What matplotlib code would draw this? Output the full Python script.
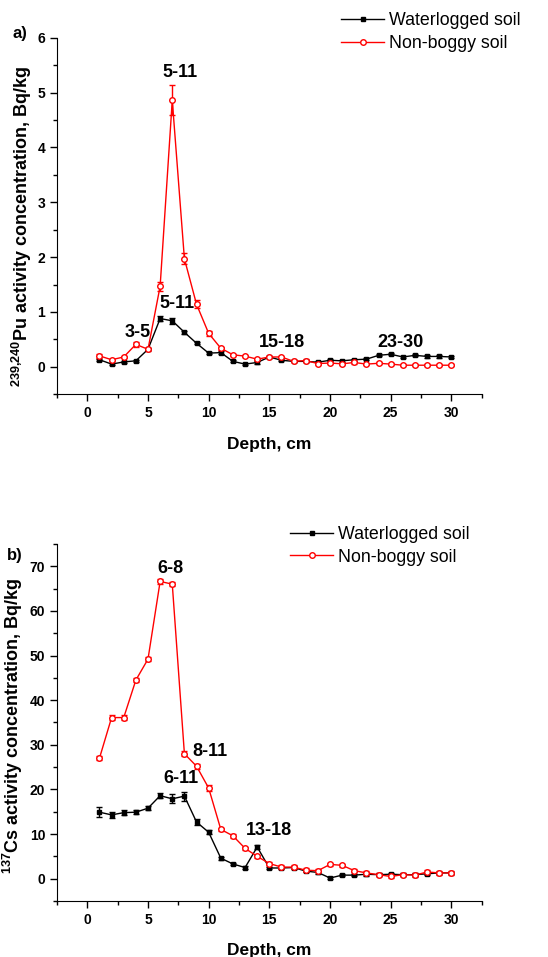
import matplotlib
matplotlib.use('Agg')
import matplotlib.pyplot as plt
from matplotlib.lines import Line2D
from matplotlib.ticker import MultipleLocator

plt.rcParams['font.family'] = ['Liberation Sans', 'DejaVu Sans']
plt.rcParams['font.weight'] = 'bold'
plt.rcParams['axes.labelweight'] = 'bold'
plt.rcParams['mathtext.fontset'] = 'custom'
plt.rcParams['mathtext.rm'] = 'Liberation Sans:bold'
plt.rcParams['mathtext.bf'] = 'Liberation Sans:bold'

depth = list(range(1, 31))

# a) 239,240Pu
pu_wet = [0.13, 0.05, 0.09, 0.11, 0.32, 0.88, 0.84, 0.63, 0.43, 0.25,
          0.26, 0.10, 0.05, 0.08, 0.18, 0.12, 0.10, 0.10, 0.085, 0.12,
          0.11, 0.13, 0.14, 0.21, 0.23, 0.18, 0.21, 0.19, 0.19, 0.18]
pu_wet_err = [0.02, 0.02, 0.02, 0.02, 0.02, 0.05, 0.05, 0.03, 0.02, 0.02,
              0.02, 0.02, 0.02, 0.02, 0.02, 0.02, 0.02, 0.02, 0.02, 0.02,
              0.02, 0.02, 0.02, 0.02, 0.02, 0.02, 0.02, 0.02, 0.02, 0.02]
pu_dry = [0.20, 0.13, 0.18, 0.41, 0.32, 1.47, 4.86, 1.97, 1.14, 0.61,
          0.34, 0.22, 0.195, 0.14, 0.18, 0.18, 0.10, 0.115, 0.06, 0.07,
          0.055, 0.08, 0.05, 0.065, 0.05, 0.03, 0.03, 0.03, 0.03, 0.03]
pu_dry_err = [0.03, 0.02, 0.02, 0.04, 0.03, 0.08, 0.27, 0.10, 0.07, 0.05,
              0.03, 0.02, 0.02, 0.02, 0.02, 0.02, 0.02, 0.02, 0.02, 0.02,
              0.02, 0.02, 0.02, 0.02, 0.02, 0.02, 0.02, 0.02, 0.02, 0.02]
pu_notes = ['5-11', '5-11', '3-5', '15-18', '23-30']
pu_note_x = [7.6, 7.35, 4.15, 16.07, 25.85]
pu_note_y = [5.36, 1.15, 0.63, 0.44, 0.44]

# b) 137Cs
cs_wet = [14.9, 14.3, 14.8, 14.9, 15.8, 18.6, 17.9, 18.5, 12.7, 10.4,
          4.6, 3.3, 2.5, 7.1, 2.4, 2.4, 2.5, 1.7, 1.4, 0.15,
          0.8, 0.8, 1.0, 0.9, 1.0, 0.9, 0.9, 1.1, 1.3, 1.3]
cs_wet_err = [1.1, 0.7, 0.6, 0.5, 0.5, 0.5, 1.0, 1.0, 0.6, 0.4,
              0.3, 0.3, 0.3, 0.4, 0.3, 0.3, 0.3, 0.3, 0.3, 0.3,
              0.3, 0.3, 0.3, 0.3, 0.3, 0.3, 0.3, 0.3, 0.3, 0.3]
cs_dry = [27.0, 36.1, 36.1, 44.5, 49.2, 66.6, 66.0, 28.0, 25.2, 20.3,
          11.05, 9.6, 6.8, 5.0, 3.4, 2.6, 2.6, 1.9, 1.8, 3.2,
          3.0, 1.8, 1.3, 0.9, 0.5, 0.9, 0.8, 1.5, 1.3, 1.3]
cs_dry_err = [0.5, 0.5, 0.5, 0.5, 0.5, 0.5, 0.5, 0.5, 0.6, 0.6,
              0.4, 0.4, 0.4, 0.4, 0.4, 0.4, 0.4, 0.4, 0.4, 0.4,
              0.4, 0.4, 0.4, 0.4, 0.4, 0.4, 0.4, 0.4, 0.4, 0.4]
cs_notes = ['6-8', '8-11', '6-11', '13-18']
cs_note_x = [6.87, 10.1, 7.72, 14.95]
cs_note_y = [69.5, 28.5, 22.5, 10.9]

fig = plt.figure(figsize=(5.48, 9.57), dpi=100)
ax1 = fig.add_axes([0.104, 0.588, 0.775, 0.3726])
ax2 = fig.add_axes([0.104, 0.0585, 0.775, 0.3731])

legend_handles = [
    Line2D([], [], color='black', marker='s', markersize=3.5, linewidth=1),
    Line2D([], [], color='red', marker='o', markersize=4, markerfacecolor='white',
           markeredgecolor='red', linewidth=1),
]
legend_labels = ['Waterlogged soil', 'Non-boggy soil']


def draw(ax, wet, wet_err, dry, dry_err):
    ax.errorbar(depth, wet, yerr=wet_err, color='black', marker='s', markersize=3.5,
                linewidth=1, capsize=2.5, elinewidth=1)
    ax.errorbar(depth, dry, yerr=dry_err, color='red', marker='o', markersize=4,
                markerfacecolor='white', markeredgecolor='red', markeredgewidth=1,
                linewidth=1, capsize=2.5, elinewidth=1)
    ax.spines['top'].set_visible(False)
    ax.spines['right'].set_visible(False)
    ax.set_xlim(-2.5, 32.5)
    ax.xaxis.set_major_locator(MultipleLocator(5))
    ax.xaxis.set_minor_locator(MultipleLocator(2.5))
    ax.tick_params(which='major', length=5, width=1, labelsize=10, direction='out')
    ax.tick_params(which='minor', length=3, width=1, direction='out')
    ax.set_xlabel('Depth, cm', fontsize=12.5, labelpad=12)


draw(ax1, pu_wet, pu_wet_err, pu_dry, pu_dry_err)
ax1.set_ylim(-0.5, 6)
ax1.yaxis.set_major_locator(MultipleLocator(1))
ax1.yaxis.set_minor_locator(MultipleLocator(0.5))
ax1.set_ylabel(r'$^{\mathbf{239{,}240}}$Pu activity concentration, Bq/kg', fontsize=13)
ax1.yaxis.set_label_coords(-0.055, 0.47)
for t, x, y in zip(pu_notes, pu_note_x, pu_note_y):
    ax1.text(x, y, t, fontsize=13, ha='center', va='center')
fig.text(0.022, 0.965, 'a)', fontsize=12, ha='left', va='center')
ax1.legend(legend_handles, legend_labels, loc='upper left', bbox_to_anchor=(0.600, 1.0),
           bbox_transform=fig.transFigure, frameon=False,
           prop={'size': 12.8, 'weight': 'normal'}, handlelength=2.4, handletextpad=0.3,
           borderpad=0.2, labelspacing=0.3)

draw(ax2, cs_wet, cs_wet_err, cs_dry, cs_dry_err)
ax2.set_ylim(-5, 75)
ax2.yaxis.set_major_locator(MultipleLocator(10))
ax2.yaxis.set_minor_locator(MultipleLocator(5))
ax2.set_ylabel(r'$^{\mathbf{137}}$Cs activity concentration, Bq/kg', fontsize=13)
ax2.yaxis.set_label_coords(-0.075, 0.49)
for t, x, y in zip(cs_notes, cs_note_x, cs_note_y):
    ax2.text(x, y, t, fontsize=13, ha='center', va='center')
fig.text(0.013, 0.42, 'b)', fontsize=12, ha='left', va='center')
ax2.legend(legend_handles, legend_labels, loc='upper left', bbox_to_anchor=(0.507, 0.463),
           bbox_transform=fig.transFigure, frameon=False,
           prop={'size': 12.8, 'weight': 'normal'}, handlelength=2.4, handletextpad=0.3,
           borderpad=0.2, labelspacing=0.3)

fig.savefig('out.png', dpi=100)
